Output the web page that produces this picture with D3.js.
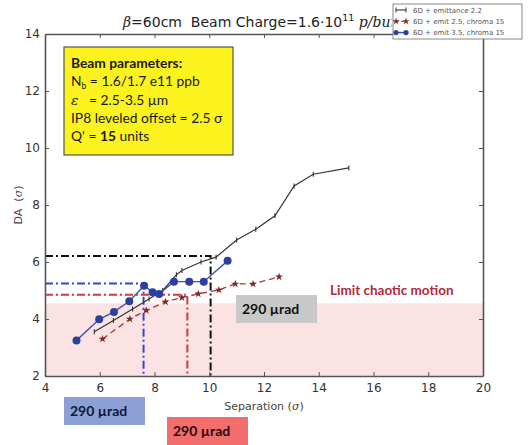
<!DOCTYPE html>
<html>
<head>
<meta charset="utf-8">
<script src="https://cdn.jsdelivr.net/npm/d3@7"></script>
<style>
  body { margin: 0; background: #fff; }
  svg { display: block; }
</style>
</head>
<body>
<script>
// series values (separation, DA)
var emit22 = [[5.8,3.55],[6.5,3.95],[7.2,4.35],[7.8,4.7],[8.3,5.0],[8.8,5.55],[9.0,5.7],[9.7,6.0],[10.25,6.17],[11.0,6.77],[11.7,7.15],[12.4,7.62],[13.1,8.67],[13.8,9.08],[15.1,9.3]];
var emit25 = [[6.1,3.3],[7.1,4.0],[7.7,4.3],[8.4,4.6],[9.0,4.75],[9.6,4.88],[10.35,5.02],[10.95,5.23],[11.6,5.23],[12.55,5.48]];
var emit35 = [[5.15,3.25],[5.98,3.99],[6.52,4.25],[7.08,4.62],[7.62,5.17],[7.93,4.94],[8.17,4.88],[8.71,5.31],[9.27,5.31],[9.8,5.31],[10.67,6.04]];

// threshold crossings: [separation, DA]
var crossBlack = [10.05, 6.21];
var crossBlue = [7.6, 5.25];
var crossRed = [9.2, 4.85];
var chaoticLimit = 4.55;

var xTicks = [4, 6, 8, 10, 12, 14, 16, 18, 20];
var yTicks = [2, 4, 6, 8, 10, 12, 14];
var legendNames = ["6D + emittance 2.2", "6D + emit 2.5, chroma 15", "6D + emit 3.5, chroma 15"];
var boxLines = ["Beam parameters:", "N", "\u03b5", "IP8 leveled offset = 2.5 \u03c3", "Q'"];

var W = 529, H = 445;
var svg = d3.select("body").append("svg").attr("width", W).attr("height", H);

var x = d3.scaleLinear().domain([4, 20]).range([45, 483]);
var y = d3.scaleLinear().domain([2, 14]).range([376, 34]);

// pink chaotic zone
svg.append("rect")
    .attr("x", x(4)).attr("y", y(chaoticLimit))
    .attr("width", x(20) - x(4)).attr("height", y(2) - y(chaoticLimit))
    .attr("fill", "#fbe3e3");

// dash-dot guide lines
var guides = [[crossBlack, "#111", 2], [crossBlue, "#3a44c8", 2], [crossRed, "#d23a3a", 2]];
guides.forEach(function (g) {
    var p = g[0];
    svg.append("path")
        .attr("d", "M" + x(4) + "," + y(p[1]) + "H" + x(p[0]) + "V" + y(2))
        .attr("fill", "none")
        .attr("stroke", g[1])
        .attr("stroke-width", g[2])
        .attr("stroke-dasharray", "8,3,2,3");
});

var line = d3.line().x(function (d) { return x(d[0]); }).y(function (d) { return y(d[1]); });

// black series
svg.append("path").datum(emit22).attr("d", line)
    .attr("fill", "none").attr("stroke", "#333").attr("stroke-width", 1.2);
svg.selectAll(".mk1").data(emit22).enter().append("path")
    .attr("d", function (d) { return "M" + x(d[0]) + "," + (y(d[1]) - 2.5) + "v5"; })
    .attr("stroke", "#333").attr("stroke-width", 1.1);

// red dashed series
svg.append("path").datum(emit25).attr("d", line)
    .attr("fill", "none").attr("stroke", "#a83838").attr("stroke-width", 1.3)
    .attr("stroke-dasharray", "6,4");
svg.selectAll(".mk2").data(emit25).enter().append("path")
    .attr("transform", function (d) { return "translate(" + x(d[0]) + "," + y(d[1]) + ")"; })
    .attr("d", d3.symbol().type(d3.symbolStar).size(20))
    .attr("fill", "#7a2a2a");

// blue series
svg.append("path").datum(emit35).attr("d", line)
    .attr("fill", "none").attr("stroke", "#3f52b5").attr("stroke-width", 1.4);
svg.selectAll(".mk3").data(emit35).enter().append("circle")
    .attr("cx", function (d) { return x(d[0]); })
    .attr("cy", function (d) { return y(d[1]); })
    .attr("r", 4)
    .attr("fill", "#2c3e9e");

// frame and inward ticks
function styleAxis(g) {
    g.select(".domain").attr("stroke", "#555").attr("stroke-width", 1.6);
    g.selectAll(".tick line").attr("stroke", "#555");
    g.selectAll("text").attr("fill", "#333").attr("font-family", "DejaVu Sans, sans-serif").attr("font-size", 12);
}
svg.append("g").attr("transform", "translate(0," + y(2) + ")")
    .call(d3.axisBottom(x).tickValues(xTicks).tickSizeInner(-4).tickSizeOuter(0).tickPadding(7))
    .call(styleAxis);
svg.append("g").attr("transform", "translate(0," + y(14) + ")")
    .call(d3.axisTop(x).tickValues(xTicks).tickSizeInner(-4).tickSizeOuter(0).tickFormat(""))
    .call(styleAxis);
svg.append("g").attr("transform", "translate(" + x(4) + ",0)")
    .call(d3.axisLeft(y).tickValues(yTicks).tickSizeInner(-4).tickSizeOuter(0).tickPadding(5))
    .call(styleAxis);
svg.append("g").attr("transform", "translate(" + x(20) + ",0)")
    .call(d3.axisRight(y).tickValues(yTicks).tickSizeInner(-4).tickSizeOuter(0).tickFormat(""))
    .call(styleAxis);

// axis labels
svg.append("text").attr("x", (x(4) + x(20)) / 2).attr("y", 410)
    .attr("text-anchor", "middle").attr("font-family", "DejaVu Sans, sans-serif")
    .attr("font-size", 11).attr("fill", "#444")
    .html("Separation (<tspan font-style='italic' font-family='DejaVu Serif'>\u03c3</tspan>)");
svg.append("text").attr("transform", "translate(22," + ((y(2) + y(14)) / 2) + ") rotate(-90)")
    .attr("text-anchor", "middle").attr("font-family", "DejaVu Sans, sans-serif")
    .attr("font-size", 11).attr("fill", "#444")
    .html("DA\u00a0 (<tspan font-style='italic' font-family='DejaVu Serif'>\u03c3</tspan>)");

// title, cut off by the legend as in the original
svg.append("clipPath").attr("id", "tclip")
    .append("rect").attr("x", 0).attr("y", 0).attr("width", 392).attr("height", 40);
var title = svg.append("text").attr("x", 123).attr("y", 27).attr("clip-path", "url(#tclip)")
    .attr("font-family", "DejaVu Sans, sans-serif").attr("font-size", 14).attr("fill", "#222");
title.append("tspan").attr("font-family", "DejaVu Serif").attr("font-style", "italic").text("\u03b2");
title.append("tspan").text("=60cm\u00a0 Beam Charge=1.6\u00b710");
title.append("tspan").attr("font-size", 9.5).attr("dy", -6).text("11");
title.append("tspan").attr("dy", 6).attr("font-family", "DejaVu Serif").attr("font-style", "italic").text(" p/bun");

// legend
var lg = svg.append("g");
lg.append("rect").attr("x", 393).attr("y", 4).attr("width", 129).attr("height", 35)
    .attr("fill", "#fff").attr("stroke", "#888").attr("stroke-width", 1);
legendNames.forEach(function (name, i) {
    var ly = 10 + i * 11.3;
    var col = ["#333", "#a83838", "#3f52b5"][i];
    lg.append("line").attr("x1", 396).attr("x2", 406).attr("y1", ly).attr("y2", ly)
        .attr("stroke", col).attr("stroke-width", i === 2 ? 1.5 : 1.1)
        .attr("stroke-dasharray", i === 1 ? "3,2" : null);
    [396, 406].forEach(function (mx) {
        if (i === 0) lg.append("path").attr("d", "M" + mx + "," + (ly - 2.5) + "v5").attr("stroke", "#333");
        if (i === 1) lg.append("path").attr("transform", "translate(" + mx + "," + ly + ")")
            .attr("d", d3.symbol().type(d3.symbolStar).size(16)).attr("fill", "#7a2a2a");
        if (i === 2) lg.append("circle").attr("cx", mx).attr("cy", ly).attr("r", 2.6).attr("fill", "#2c3e9e");
    });
    lg.append("text").attr("x", 413).attr("y", ly + 2.5)
        .attr("font-family", "DejaVu Sans, sans-serif").attr("font-size", 7).attr("fill", "#555")
        .text(name);
});

// yellow parameter box
svg.append("rect").attr("x", 64).attr("y", 47).attr("width", 169).attr("height", 108)
    .attr("fill", "#fbf21e").attr("stroke", "#555").attr("stroke-width", 1.2);
var bf = "Lato, 'Open Sans', sans-serif";
var by = [68, 86, 105, 123, 141];
boxLines.forEach(function (t, i) {
    var tx = svg.append("text").attr("x", 71).attr("y", by[i])
        .attr("font-family", bf).attr("font-size", 13.8).attr("fill", "#1a1a1a");
    if (i === 0) { tx.attr("font-weight", "bold").text(t); }
    else if (i === 1) {
        tx.append("tspan").text("N");
        tx.append("tspan").attr("font-size", 8.5).attr("dy", 3).text("b");
        tx.append("tspan").attr("dy", -3).text(" = 1.6/1.7 e11 ppb");
    } else if (i === 2) {
        tx.append("tspan").attr("font-family", "DejaVu Serif").attr("font-style", "italic").text(t);
        tx.append("tspan").text("\u00a0\u00a0 = 2.5-3.5 \u00b5m");
    } else if (i === 4) {
        tx.append("tspan").text("Q' = ");
        tx.append("tspan").attr("font-weight", "bold").text("15");
        tx.append("tspan").text(" units");
    } else { tx.text(t); }
});

// annotations
svg.append("text").attr("x", 330).attr("y", 295)
    .attr("font-family", bf).attr("font-weight", "bold").attr("font-size", 13.5)
    .attr("fill", "#b02a3a").text("Limit chaotic motion");

var tags = [[236, 295, "#c8c8c8", "#111"], [64, 397, "#8da0d6", "#10183a"], [167, 417, "#f26d6d", "#2a0c0c"]];
tags.forEach(function (t) {
    svg.append("rect").attr("x", t[0]).attr("y", t[1]).attr("width", 81).attr("height", 28).attr("fill", t[2]);
    svg.append("text").attr("x", t[0] + 6).attr("y", t[1] + 19)
        .attr("font-family", bf).attr("font-weight", "bold").attr("font-size", 14)
        .attr("fill", t[3]).text("290 \u00b5rad");
});
</script>
</body>
</html>
